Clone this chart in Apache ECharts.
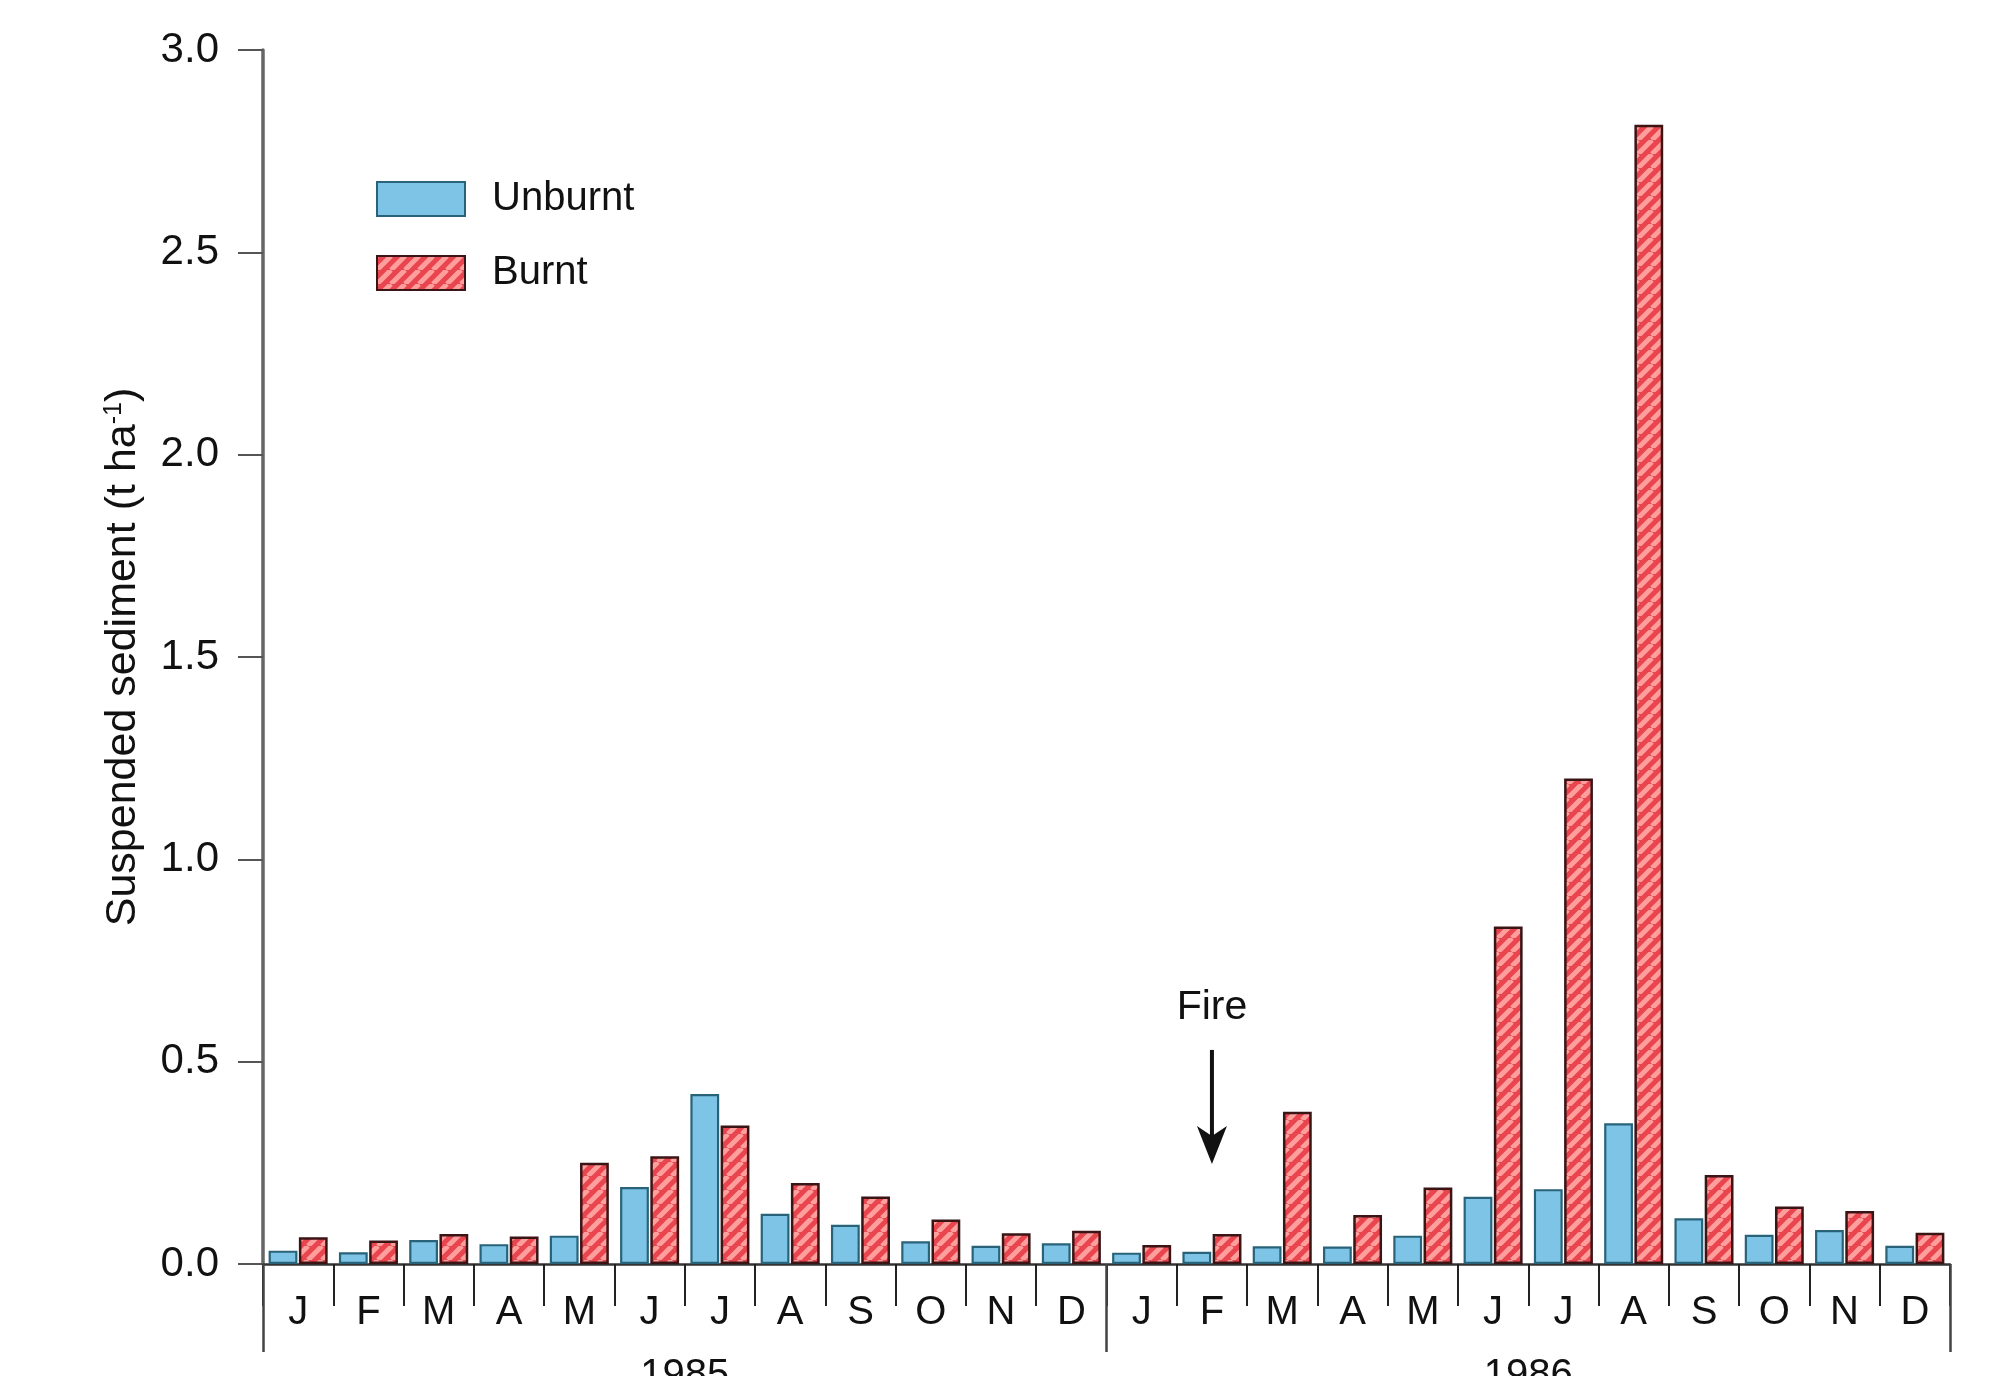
<!DOCTYPE html>
<html>
<head>
<meta charset="utf-8">
<script src="https://cdn.jsdelivr.net/npm/echarts@6/dist/echarts.min.js"></script>
<style>
html,body{margin:0;padding:0;background:#fff;overflow:hidden;}
#c{width:2002px;height:1376px;}
</style>
</head>
<body>
<div id="c"></div>
<script>
// ---- data ----
const years = ['1985', '1986'];
const monthLetters = ['J','F','M','A','M','J','J','A','S','O','N','D'];
const categories = [];
years.forEach(y => monthLetters.forEach((m, i) => categories.push(y + '-' + i)));
const unburnt = [0.033,0.029,0.059,0.049,0.070,0.190,0.420,0.124,0.097,0.056,0.045,0.051,
                 0.028,0.030,0.044,0.043,0.070,0.166,0.185,0.348,0.113,0.072,0.084,0.045];
const burnt   = [0.066,0.058,0.074,0.068,0.250,0.266,0.342,0.200,0.167,0.110,0.076,0.082,
                 0.047,0.074,0.376,0.121,0.189,0.834,1.200,2.815,0.220,0.142,0.131,0.077];
const yTicks = [0, 0.5, 1.0, 1.5, 2.0, 2.5, 3.0];
const fireIndex = 13;          // February 1986
const fireLabelValue = 0.634;
const fireArrowTop = 0.529;
const fireArrowTip = 0.247;

// ---- hatch pattern ----
function hatch() {
  const s = 14;
  const cv = document.createElement('canvas');
  cv.width = s; cv.height = s;
  const g = cv.getContext('2d');
  g.fillStyle = '#e9454e';
  g.fillRect(0, 0, s, s);
  g.strokeStyle = '#ff9f9d';
  g.lineWidth = 5;
  g.beginPath();
  for (let k = -1; k <= 1; k++) {
    g.moveTo(k * s, s);
    g.lineTo(k * s + s, 0);
  }
  g.stroke();
  return cv;
}

const FONT = 'Liberation Sans, Arial, Helvetica, sans-serif';
const chart = echarts.init(document.getElementById('c'));
chart.setOption({
  animation: false,
  backgroundColor: '#ffffff',
  textStyle: { fontFamily: FONT, color: '#111' },
  grid: { left: 263, right: 52, top: 50, bottom: 112, containLabel: false, outerBoundsMode: 'none' },
  legend: {
    orient: 'vertical', left: 371, top: 174,
    itemWidth: 88, itemHeight: 34, itemGap: 34,
    textStyle: { fontSize: 40, fontFamily: FONT, color: '#111', padding: [0, 0, 0, 22] },
    data: [{ name: 'Unburnt', icon: 'rect' }, { name: 'Burnt', icon: 'rect' }]
  },
  xAxis: [{
    type: 'category', data: categories, position: 'bottom',
    axisLine: { show: true, lineStyle: { color: '#333', width: 2.5 } },
    axisTick: { show: true, length: 42, lineStyle: { color: '#222', width: 2 } },
    axisLabel: {
      margin: 29, fontSize: 40, fontFamily: FONT, color: '#111',
      formatter: v => monthLetters[+v.split('-')[1]]
    }
  }, {
    type: 'category', data: years, position: 'bottom', gridIndex: 0,
    axisLine: { show: false },
    axisTick: { show: true, length: 88, lineStyle: { color: '#444', width: 2.5 } },
    axisLabel: { margin: 92, fontSize: 40, fontFamily: FONT, color: '#111' }
  }],
  yAxis: {
    type: 'value', min: 0, max: 3, interval: 0.5,
    name: 'Suspended sediment (t ha{s|-1})',
    nameLocation: 'middle', nameGap: 118, nameRotate: 90,
    nameTextStyle: {
      fontSize: 43, fontFamily: FONT, color: '#111',
      rich: { s: { fontSize: 25, verticalAlign: 'top', padding: [0, 0, 18, 0], fontFamily: FONT, color: '#111' } }
    },
    axisLine: { show: true, lineStyle: { color: '#666', width: 3.5 } },
    axisTick: { show: true, length: 25, lineStyle: { color: '#555', width: 2 } },
    axisLabel: { margin: 44, fontSize: 42, fontFamily: FONT, color: '#111', formatter: v => v.toFixed(1) },
    splitLine: { show: false }
  },
  series: [{
    name: 'Unburnt', type: 'bar', data: unburnt, xAxisIndex: 0,
    barCategoryGap: '16%', barGap: '5%',
    itemStyle: { color: '#7ec4e6', borderColor: '#28637a', borderWidth: 2.2 }
  }, {
    name: 'Burnt', type: 'bar', data: burnt, xAxisIndex: 0,
    barCategoryGap: '16%', barGap: '5%',
    itemStyle: { color: { image: hatch(), repeat: 'repeat' }, borderColor: '#3b1416', borderWidth: 2.5 }
  }]
});

// ---- Fire annotation ----
const pLabel = chart.convertToPixel({ xAxisIndex: 0, yAxisIndex: 0 }, [fireIndex, fireLabelValue]);
const pTop = chart.convertToPixel({ xAxisIndex: 0, yAxisIndex: 0 }, [fireIndex, fireArrowTop]);
const pTip = chart.convertToPixel({ xAxisIndex: 0, yAxisIndex: 0 }, [fireIndex, fireArrowTip]);
const x = pTop[0];
chart.setOption({
  graphic: [{
    type: 'text', x: pLabel[0], y: pLabel[1],
    style: { text: 'Fire', fontSize: 41, fontFamily: FONT, fill: '#111', align: 'center', verticalAlign: 'middle' }
  }, {
    type: 'line', shape: { x1: x, y1: pTop[1], x2: x, y2: pTip[1] - 20 },
    style: { stroke: '#111', lineWidth: 4 }
  }, {
    type: 'polygon',
    shape: { points: [[x - 15, pTip[1] - 38], [x, pTip[1] - 28], [x + 15, pTip[1] - 38], [x, pTip[1]]] },
    style: { fill: '#111' }
  }]
});
</script>
</body>
</html>
